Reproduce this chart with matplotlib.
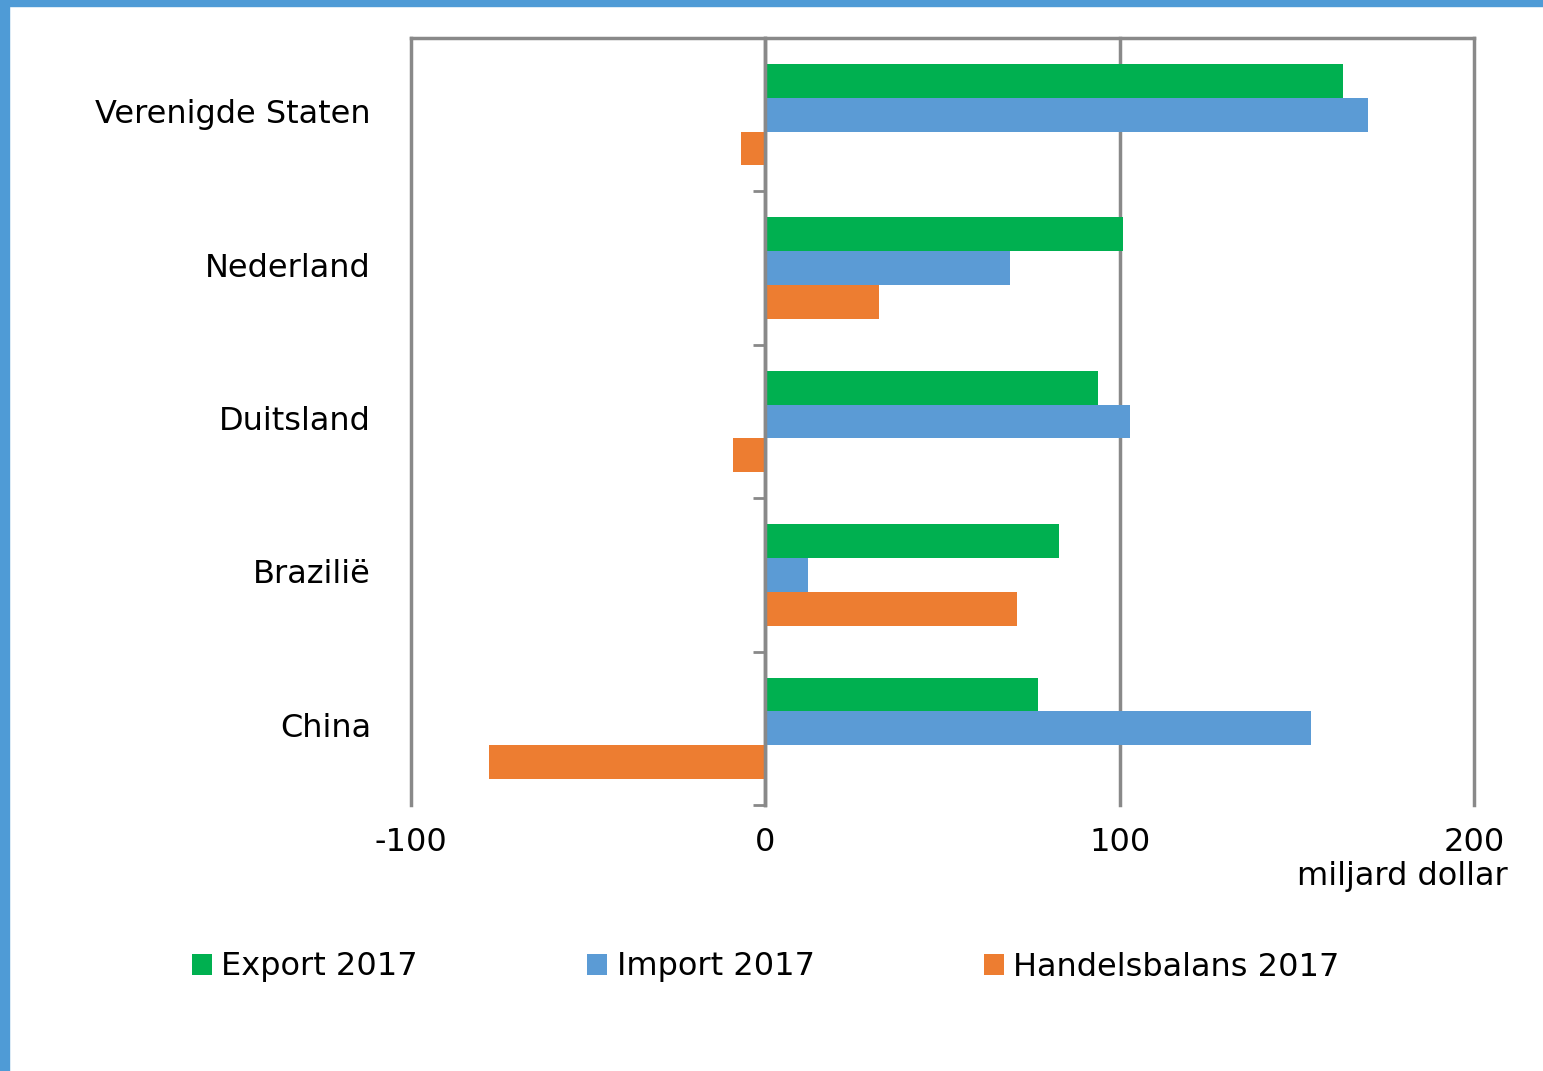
import matplotlib.pyplot as plt
from matplotlib.patches import Rectangle

# ---- data (miljard dollar) ----
countries = ["Verenigde Staten", "Nederland", "Duitsland", "Brazilië", "China"]
export_2017 = [163, 101, 94, 83, 77]
import_2017 = [170, 69, 103, 12, 154]
balans_2017 = [-7, 32, -9, 71, -78]
series_labels = ["Export 2017", "Import 2017", "Handelsbalans 2017"]
x_ticks = [-100, 0, 100, 200]

# ---- style ----
GREEN = "#00B050"
BLUE = "#5B9BD5"
ORANGE = "#ED7D31"
GRID = "#898989"
FS = 23

plt.rcParams["font.family"] = ["DejaVu Sans"]
plt.rcParams["axes.unicode_minus"] = False

fig = plt.figure(figsize=(15.43, 10.71), dpi=100)
fig.patch.set_facecolor("white")

# blue frame on top and left
fig.patches.append(Rectangle((0, 1 - 6 / 1071), 1, 6 / 1071, transform=fig.transFigure,
                             color="#4F9BD6", zorder=0))
fig.patches.append(Rectangle((0, 0), 9 / 1543, 1, transform=fig.transFigure,
                             color="#4F9BD6", zorder=0))

ax = fig.add_axes([411 / 1543, 1 - 805 / 1071, (1474 - 411) / 1543, (805 - 38) / 1071])

h = 0.22
ypos = list(range(len(countries)))
ax.barh([y - h for y in ypos], export_2017, height=h, color=GREEN, label=series_labels[0], zorder=2)
ax.barh(ypos, import_2017, height=h, color=BLUE, label=series_labels[1], zorder=2)
ax.barh([y + h for y in ypos], balans_2017, height=h, color=ORANGE, label=series_labels[2], zorder=2)

ax.set_xlim(-100, 200)
ax.set_ylim(len(countries) - 0.5, -0.5)

# vertical gridlines
ax.set_xticks(x_ticks)
ax.xaxis.grid(True, color=GRID, linewidth=2.5, zorder=1, clip_on=False)
ax.tick_params(axis="x", length=0, pad=16, labelsize=FS)

# spines: top line only, plus the category axis at x=0
for s in ["right", "bottom"]:
    ax.spines[s].set_visible(False)
ax.spines["top"].set_color(GRID)
ax.spines["top"].set_linewidth(2.5)
ax.spines["left"].set_position(("data", 0))
ax.spines["left"].set_color(GRID)
ax.spines["left"].set_linewidth(2.5)
ax.spines["left"].set_zorder(3)

ax.set_yticks([y + 0.5 for y in ypos])
ax.set_yticklabels([])
ax.tick_params(axis="y", length=9, width=2, color=GRID, direction="out")

for y, name in zip(ypos, countries):
    ax.text(-40 / 1063, y, name, transform=ax.get_yaxis_transform(),
            ha="right", va="center", fontsize=FS)

fig.text(1508 / 1543, 1 - 877 / 1071, "miljard dollar", ha="right", va="center", fontsize=FS)

fig.legend(loc="center left", bbox_to_anchor=(192 / 1543, 1 - 967 / 1071), ncol=3,
           frameon=False, fontsize=FS, handlelength=0.62, handleheight=0.62,
           handletextpad=0.3, columnspacing=5.3, borderpad=0, borderaxespad=0)

fig.savefig("out.png", dpi=100, facecolor="white")
